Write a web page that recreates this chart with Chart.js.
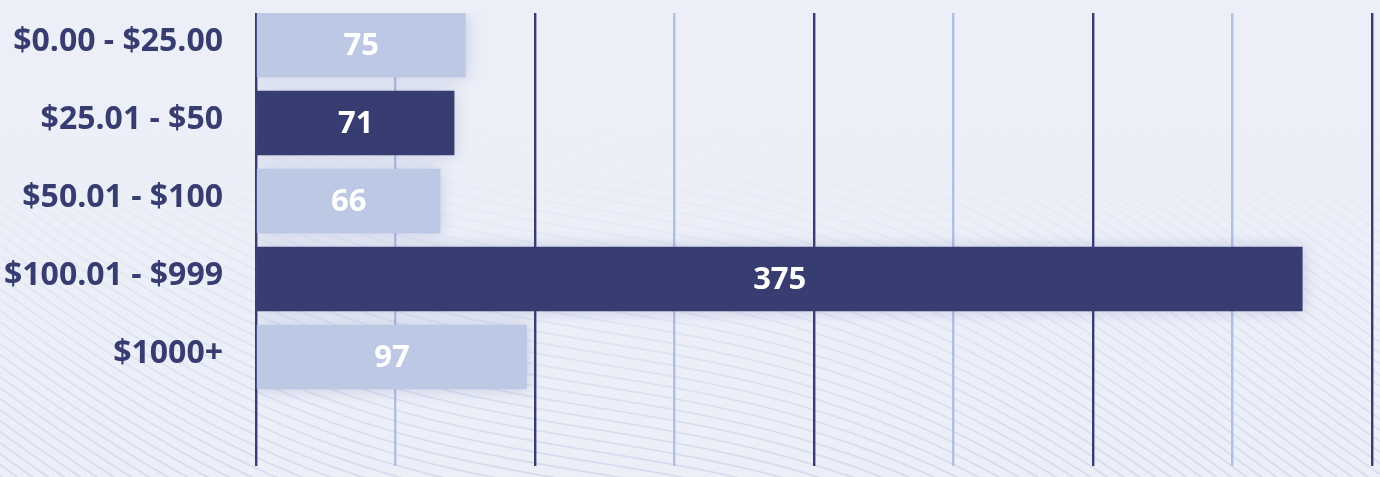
<!DOCTYPE html>
<html>
<head>
<meta charset="utf-8">
<script src="https://cdn.jsdelivr.net/npm/chart.js@4.4.0/dist/chart.umd.min.js"></script>
<style>
  html, body { margin: 0; padding: 0; background: #eceff8; overflow: hidden; }
  canvas { display: block; }
</style>
</head>
<body>
<canvas id="grafico" width="1380" height="477"></canvas>
<script>
const faixas = ['$0.00 - $25.00', '$25.01 - $50', '$50.01 - $100', '$100.01 - $999', '$1000+'];
const pedidos = [75, 71, 66, 375, 97];
const coresBarra = ['#bdc8e4', '#373d70', '#bdc8e4', '#373d70', '#bdc8e4'];
const eixoX = { min: 0, max: 400, passo: 50 };

const ESCURO = '#373d70';
const CLARO = '#b1bfe3';

// fundo com as linhas onduladas
const fundo = {
  id: 'fundo',
  beforeDraw(chart) {
    const c = chart.ctx;
    const w = chart.width, h = chart.height;
    c.save();
    c.fillStyle = '#eceff8';
    c.fillRect(0, 0, w, h);
    c.lineWidth = 1.8;
    const g = c.createLinearGradient(0, 130, 0, h);
    g.addColorStop(0, 'rgba(214,221,238,0)');
    g.addColorStop(0.45, 'rgba(214,221,238,0.5)');
    g.addColorStop(1, 'rgba(212,219,237,0.95)');
    c.strokeStyle = g;
    for (let k = -70; k < 40; k++) {
      c.beginPath();
      for (let x = 0; x <= w; x += 5) {
        const y = 150 + k * 11 + x * 0.45 + 60 * Math.sin(x / 210 + 0.3);
        if (x === 0) c.moveTo(x, y); else c.lineTo(x, y);
      }
      c.stroke();
    }
    c.restore();
  }
};

// sombra suave nas barras
const sombra = {
  id: 'sombra',
  beforeDatasetDraw(chart) {
    const c = chart.ctx;
    c.save();
    c.shadowColor = 'rgba(90,105,170,0.28)';
    c.shadowBlur = 14;
  },
  afterDatasetDraw(chart) {
    chart.ctx.restore();
  }
};

// valores dentro das barras
const rotulos = {
  id: 'rotulos',
  afterDatasetsDraw(chart) {
    const c = chart.ctx;
    const meta = chart.getDatasetMeta(0);
    c.save();
    c.fillStyle = '#ffffff';
    c.font = 'bold 31px "Open Sans"';
    c.textAlign = 'center';
    c.textBaseline = 'middle';
    meta.data.forEach((bar, i) => {
      c.fillText(String(pedidos[i]), (bar.x + bar.base) / 2, bar.y + 1);
    });
    c.restore();
  }
};

new Chart(document.getElementById('grafico'), {
  type: 'bar',
  data: {
    datasets: [{
      data: pedidos.map((v, i) => ({ x: v, y: i })),
      backgroundColor: coresBarra,
      borderWidth: 0,
      barThickness: 64
    }]
  },
  options: {
    indexAxis: 'y',
    responsive: false,
    animation: false,
    layout: { autoPadding: false, padding: { top: 13, bottom: 11, right: 8, left: 0 } },
    scales: {
      x: {
        type: 'linear',
        min: eixoX.min,
        max: eixoX.max,
        ticks: { display: false, stepSize: eixoX.passo },
        border: { display: false },
        grid: {
          drawTicks: false,
          lineWidth: 2.4,
          color: (ctx) => (ctx.tick && ctx.tick.value % 100 === 0 ? ESCURO : CLARO)
        },
        afterFit(s) { s.height = 0; s.paddingLeft = 0; s.paddingRight = 0; }
      },
      y: {
        type: 'linear',
        reverse: true,
        offset: false,
        bounds: 'data',
        min: -0.41,
        max: 5.398,
        grid: { display: false },
        border: { display: false },
        afterBuildTicks(s) { s.ticks = faixas.map((_, i) => ({ value: i })); },
        ticks: {
          autoSkip: false,
          padding: 25,
          labelOffset: -3,
          color: ESCURO,
          font: { family: '"Open Sans"', size: 32, weight: 'bold' },
          callback: (v) => faixas[v]
        },
        afterFit(s) { s.width = 256; s.paddingTop = 0; s.paddingBottom = 0; }
      }
    },
    plugins: {
      legend: { display: false },
      tooltip: { enabled: false }
    }
  },
  plugins: [fundo, sombra, rotulos]
});
</script>
</body>
</html>
